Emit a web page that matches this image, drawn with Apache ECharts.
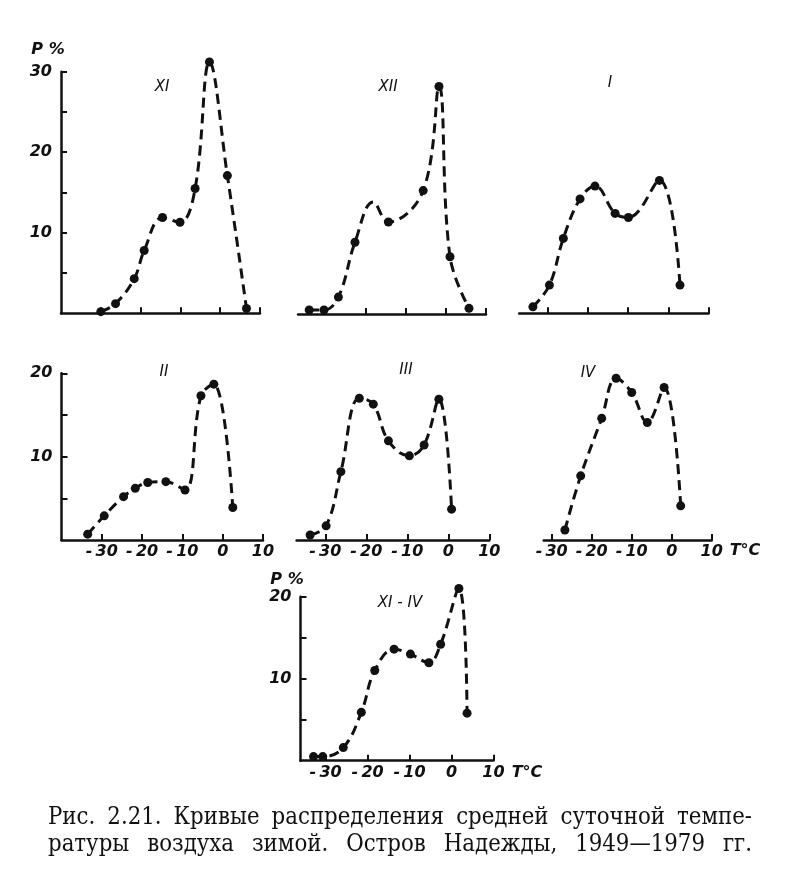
<!DOCTYPE html>
<html>
<head>
<meta charset="utf-8">
<script src="https://cdn.jsdelivr.net/npm/echarts@6/dist/echarts.min.js"></script>
<style>
html, body { margin: 0; padding: 0; background: #fff; }
#chart { width: 799px; height: 885px; }
</style>
</head>
<body>
<div id="chart"></div>
<script>
// temperature (°C) and frequency (%)
var tXI = [-30, -26.3, -21.6, -19.1, -14.5, -10.1, -6.3, -2.7, 1.8, 6.6];
var pXI = [0.2, 1.2, 4.3, 7.8, 11.9, 11.3, 15.5, 31.2, 17.1, 0.6];

var tXII = [-34.2, -30.5, -26.9, -22.75, -18.2, -14.4, -5.7, -1.75, 1.0, 5.75];
var pXII = [0.5, 0.5, 2.1, 8.9, 13.9, 11.4, 15.3, 28.2, 7.1, 0.7];

var tI = [-33.6, -29.5, -26.05, -21.9, -18.2, -13.2, -9.9, -2.2, 2.9];
var pI = [0.8, 3.5, 9.3, 14.2, 15.8, 12.4, 11.9, 16.5, 3.5];

var tII = [-33.5, -29.4, -24.6, -21.7, -18.6, -14.1, -9.35, -5.4, -2.2, 2.5];
var pII = [0.7, 2.9, 5.2, 6.2, 6.9, 7.0, 6.0, 17.3, 18.7, 3.9];

var tIII = [-33.7, -29.8, -26.2, -21.7, -18.3, -14.6, -9.5, -5.9, -2.3, 0.8];
var pIII = [0.6, 1.7, 8.2, 17.0, 16.3, 11.9, 10.1, 11.4, 16.9, 3.7];

var tIV = [-26.7, -22.75, -17.5, -13.9, -10.0, -6.1, -1.9, 2.25];
var pIV = [1.2, 7.7, 14.6, 19.4, 17.7, 14.1, 18.3, 4.1];

var tAll = [-32.9, -30.7, -25.8, -21.5, -18.3, -13.7, -9.8, -5.4, -2.6, 1.75, 3.7];
var pAll = [0.5, 0.5, 1.6, 5.9, 11.0, 13.6, 13.0, 11.95, 14.2, 21.0, 5.8];

var xTicks = [-30, -20, -10, 0, 10];

var captionLines = [
    'Рис. 2.21. Кривые распределения средней суточной темпе-',
    'ратуры воздуха зимой. Остров Надежды, 1949—1979 гг.'
];

var ink = '#111';
var numFont = { fontFamily: 'DejaVu Sans', fontStyle: 'italic', fontWeight: 'bold', fontSize: 16 };

var panels = [
    { name: 'XI',      t: tXI,  p: pXI,  grid: [61, 71.7, 199, 241.6],      xMin: -40, yMax: 30, yAxis: true,  xLabels: false, label: [162, 87] },
    { name: 'XII',     t: tXII, p: pXII, grid: [298, 72, 188, 242],         xMin: -37, yMax: 30, yAxis: false, xLabels: false, label: [388, 87], noDot: [4] },
    { name: 'I',       t: tI,   p: pI,   grid: [519.2, 71.7, 189.4, 241.6], xMin: -37, yMax: 30, yAxis: false, xLabels: false, label: [610, 83] },
    { name: 'II',      t: tII,  p: pII,  grid: [61.5, 373.3, 201.5, 166.7], xMin: -40, yMax: 20, yAxis: true,  xLabels: true,  label: [164, 372] },
    { name: 'III',     t: tIII, p: pIII, grid: [296.6, 373.3, 192.7, 166.7], xMin: -37, yMax: 20, yAxis: false, xLabels: true, label: [406, 370] },
    { name: 'IV',      t: tIV,  p: pIV,  grid: [543.7, 373.3, 168, 166.7],  xMin: -32, yMax: 20, yAxis: false, xLabels: true,  label: [588, 373] },
    { name: 'XI - IV', t: tAll, p: pAll, grid: [300.5, 596.7, 193, 164],    xMin: -36, yMax: 20, yAxis: true,  xLabels: true,  label: [400, 603] }
];

var grids = [], xAxes = [], yAxes = [], series = [], graphics = [];

panels.forEach(function (pn, i) {
    grids.push({ left: pn.grid[0], top: pn.grid[1], width: pn.grid[2], height: pn.grid[3], containLabel: false });

    xAxes.push({
        type: 'value', gridIndex: i, min: pn.xMin, max: 10,
        axisLine: { show: true, onZero: false, lineStyle: { color: ink, width: 2.5 } },
        axisTick: { show: true, inside: true, length: 6, customValues: xTicks, lineStyle: { color: ink, width: 2 } },
        axisLabel: {
            show: pn.xLabels, customValues: xTicks, margin: 4,
            formatter: function (v) { return v < 0 ? '-\u2009' + (-v) : String(v); },
            fontFamily: numFont.fontFamily, fontStyle: numFont.fontStyle, fontWeight: numFont.fontWeight,
            fontSize: numFont.fontSize, color: ink
        },
        splitLine: { show: false }
    });

    var yLabels = [], yTicks = [];
    for (var v = 5; v <= pn.yMax; v += 5) { yTicks.push(v); if (v % 10 === 0) yLabels.push(v); }
    yAxes.push({
        type: 'value', gridIndex: i, min: 0, max: pn.yMax,
        show: pn.yAxis,
        axisLine: { show: true, onZero: false, lineStyle: { color: ink, width: 2.5 } },
        axisTick: { show: true, inside: true, length: 6, customValues: yTicks, lineStyle: { color: ink, width: 2 } },
        axisLabel: {
            show: true, customValues: yLabels, margin: 9,
            fontFamily: numFont.fontFamily, fontStyle: numFont.fontStyle, fontWeight: numFont.fontWeight,
            fontSize: numFont.fontSize, color: ink
        },
        splitLine: { show: false }
    });

    var data = pn.t.map(function (t, k) {
        var item = { value: [t, pn.p[k]] };
        if (pn.noDot && pn.noDot.indexOf(k) >= 0) item.symbolSize = 0;
        return item;
    });
    series.push({
        type: 'line', name: pn.name, xAxisIndex: i, yAxisIndex: i,
        data: data, smooth: 0.4, clip: false,
        symbol: 'circle', symbolSize: 9,
        itemStyle: { color: ink },
        lineStyle: { color: ink, width: 3, type: [10, 6] },
        silent: true
    });

    graphics.push({
        type: 'text', x: pn.label[0], y: pn.label[1],
        style: { text: pn.name, fontFamily: 'DejaVu Sans', fontStyle: 'italic', fontSize: 15, fill: ink, align: 'center', verticalAlign: 'middle' }
    });
});

// axis names
function note(text, x, y) {
    graphics.push({
        type: 'text', x: x, y: y,
        style: { text: text, fontFamily: 'DejaVu Sans', fontStyle: 'italic', fontWeight: 'bold', fontSize: 16, fill: ink, align: 'center', verticalAlign: 'middle' }
    });
}
note('P %', 48, 50);
note('P %', 287, 580);
note('T°C', 745, 551);
note('T°C', 527, 773);

// caption, justified word by word; font size fitted so line 1 has ~12px word gaps
var capFamily = 'DejaVu Serif Condensed';
var ctx = document.createElement('canvas').getContext('2d');
function wordWidths(words, size) {
    ctx.font = size + 'px "' + capFamily + '"';
    return words.map(function (w) { return ctx.measureText(w).width; });
}
var firstWords = captionLines[0].split(' ');
var base = wordWidths(firstWords, 20).reduce(function (a, b) { return a + b; }, 0);
var capSize = Math.round(20 * (704 - 12 * (firstWords.length - 1)) / base * 10) / 10;

captionLines.forEach(function (line, li) {
    var words = line.split(' ');
    var widths = wordWidths(words, capSize);
    var total = widths.reduce(function (a, b) { return a + b; }, 0);
    var gap = (704 - total) / (words.length - 1);
    var x = 48;
    words.forEach(function (w, k) {
        graphics.push({
            type: 'text', x: x, y: 818 + li * 27,
            style: { text: w, fontFamily: capFamily, fontSize: capSize, fill: ink, verticalAlign: 'middle' }
        });
        x += widths[k] + gap;
    });
});

var myChart = echarts.init(document.getElementById('chart'));
myChart.setOption({
    animation: false,
    backgroundColor: '#fff',
    grid: grids,
    xAxis: xAxes,
    yAxis: yAxes,
    series: series,
    graphic: graphics
});
</script>
</body>
</html>
